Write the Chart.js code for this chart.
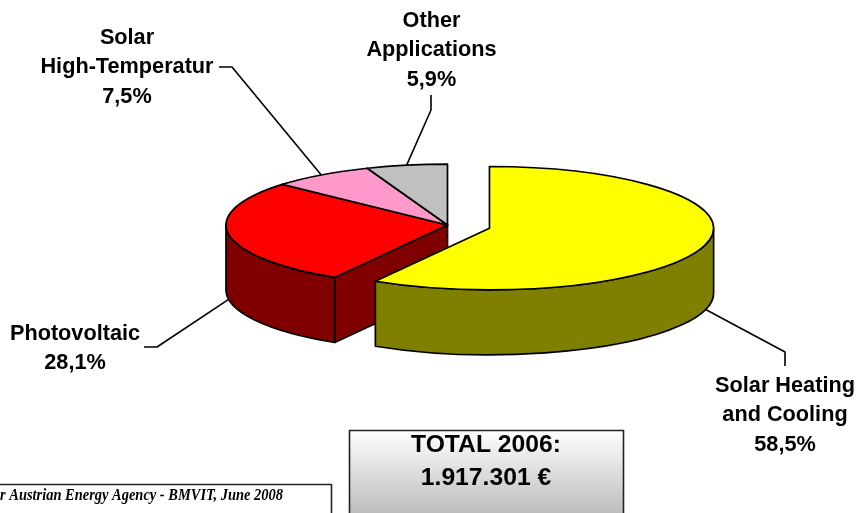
<!DOCTYPE html>
<html>
<head>
<meta charset="utf-8">
<title>Solar funding 2006</title>
<script src="https://cdn.jsdelivr.net/npm/chart.js@4"></script>
<style>
  body { margin: 0; background: #fff; overflow: hidden; }
  canvas { display: block; }
</style>
</head>
<body>
<canvas id="pieChart" width="858" height="513"></canvas>
<script>
//Chart values
const categories = ['Solar Heating and Cooling', 'Photovoltaic', 'Solar High-Temperatur', 'Other Applications'];
const shares = [58.5, 28.1, 7.5, 5.9];
const explode = [43.5, 0, 0, 0];
const topColors = ['#ffff00', '#ff0000', '#ff99cc', '#c0c0c0'];
const sideColors = ['#808000', '#800000', '#cc7aa3', '#999999'];

//Label text, one entry per slice
const labelLines = [
  ['Solar Heating', 'and Cooling'],
  ['Photovoltaic'],
  ['Solar', 'High-Temperatur'],
  ['Other', 'Applications'],
];
const labelCenterX = [785, 75, 127, 431.5];
const labelFirstLineY = [386, 334, 38, 21];
const leaderElbows = [
  [[785, 352], [785, 366]],
  [[157, 347], [144, 347]],
  [[232, 67], [219, 67]],
  [[431, 110], [431, 95]],
];

//3D look of the pie
const squash = 0.275;
const depth = 65;
const explodedGrow = 1.012;

function sliceGeometry(arc, i) {
  const mid = (arc.startAngle + arc.endAngle) / 2;
  const grow = explode[i] > 0 ? explodedGrow : 1;
  return {
    cx: arc.x + Math.cos(mid) * explode[i],
    cy: arc.y + Math.sin(mid) * explode[i] * squash,
    r: arc.outerRadius * grow,
    ry: arc.outerRadius * grow * squash,
    mid,
    grow,
  };
}

//Side walls, top faces and outlines of the slices
function drawPie(chart, ctx) {
  const arcs = chart.getDatasetMeta(0).data;
  const order = arcs.map((arc, i) => i).sort((a, b) => explode[a] - explode[b]);
  ctx.lineWidth = 1.7;
  ctx.strokeStyle = '#000';
  ctx.lineJoin = 'round';

  order.forEach((i) => {
    const arc = arcs[i];
    const g = sliceGeometry(arc, i);
    ctx.fillStyle = sideColors[i];

    //Cut face that shows where the neighbour was pulled away
    if (i > 0 && explode[i - 1] > 0) {
      const rimX = g.cx + Math.cos(arc.startAngle) * g.r;
      const rimY = g.cy + Math.sin(arc.startAngle) * g.ry;
      ctx.beginPath();
      ctx.moveTo(g.cx, g.cy);
      ctx.lineTo(rimX, rimY);
      ctx.lineTo(rimX, rimY + depth);
      ctx.lineTo(g.cx, g.cy + depth);
      ctx.closePath();
      ctx.fill();
      ctx.stroke();
    }

    //Outer wall, only the front half of the ellipse can be seen
    const from = Math.max(arc.startAngle, 0);
    const to = Math.min(arc.endAngle, Math.PI);
    if (from < to) {
      ctx.beginPath();
      ctx.ellipse(g.cx, g.cy, g.r, g.ry, 0, from, to);
      ctx.ellipse(g.cx, g.cy + depth, g.r, g.ry, 0, to, from, true);
      ctx.closePath();
      ctx.fill();
      ctx.stroke();
    }
  });

  order.forEach((i) => {
    const arc = arcs[i];
    const g = sliceGeometry(arc, i);

    ctx.save();
    ctx.translate(g.cx, g.cy);
    ctx.scale(g.grow, squash * g.grow);
    ctx.translate(-arc.x, -arc.y);
    arc.draw(ctx);
    ctx.restore();

    ctx.beginPath();
    ctx.moveTo(g.cx, g.cy);
    ctx.ellipse(g.cx, g.cy, g.r, g.ry, 0, arc.startAngle, arc.endAngle);
    ctx.closePath();
    ctx.stroke();
  });
}

//Leader lines start on the rim, at the middle of each slice
function drawLabels(chart, ctx) {
  const arcs = chart.getDatasetMeta(0).data;
  arcs.forEach((arc, i) => {
    const g = sliceGeometry(arc, i);
    const sin = Math.sin(g.mid);
    const startX = g.cx + Math.cos(g.mid) * g.r;
    const startY = g.cy + sin * g.ry + (sin > 0 ? depth : 0);

    ctx.beginPath();
    ctx.moveTo(startX, startY);
    leaderElbows[i].forEach((p) => ctx.lineTo(p[0], p[1]));
    ctx.lineWidth = 1.6;
    ctx.strokeStyle = '#000';
    ctx.stroke();

    const lines = labelLines[i].concat(shares[i].toFixed(1).replace('.', ',') + '%');
    ctx.font = 'bold 21.7px "Liberation Sans"';
    ctx.fillStyle = '#000';
    ctx.textAlign = 'center';
    ctx.textBaseline = 'middle';
    lines.forEach((line, n) => ctx.fillText(line, labelCenterX[i], labelFirstLineY[i] + n * 29.3));
  });
}

//The two boxes along the bottom edge
function drawBoxes(ctx) {
  const gradient = ctx.createLinearGradient(0, 430, 0, 513);
  gradient.addColorStop(0, '#ffffff');
  gradient.addColorStop(1, '#bdbdbd');
  ctx.fillStyle = gradient;
  ctx.fillRect(349.5, 430.5, 274, 90);
  ctx.strokeStyle = '#222';
  ctx.lineWidth = 1.6;
  ctx.strokeRect(349.5, 430.5, 274, 90);

  ctx.fillStyle = '#000';
  ctx.font = 'bold 24.7px "Liberation Sans"';
  ctx.textAlign = 'center';
  ctx.textBaseline = 'middle';
  ctx.fillText('TOTAL 2006:', 486, 445);
  ctx.fillText('1.917.301 €', 486, 478);

  ctx.strokeRect(-5.5, 484.5, 337, 40);
  ctx.font = 'italic bold 16px "Liberation Serif"';
  ctx.textAlign = 'right';
  ctx.fillText('r Austrian Energy Agency - BMVIT, June 2008', 283, 496, 283);
}

const pie3dPlugin = {
  id: 'pie3d',
  beforeDatasetsDraw(chart) {
    const ctx = chart.ctx;
    ctx.save();
    drawPie(chart, ctx);
    drawLabels(chart, ctx);
    drawBoxes(ctx);
    ctx.restore();
    return false;
  },
};

//Create the pie, the plugin above paints it
const chart = new Chart(document.getElementById('pieChart').getContext('2d'), {
  type: 'pie',
  data: {
    labels: categories,
    datasets: [{
      data: shares,
      backgroundColor: topColors,
      borderWidth: 0,
    }],
  },
  options: {
    responsive: false,
    animation: false,
    radius: 221.5,
    layout: { padding: { left: 37, bottom: 63 } },
    plugins: {
      legend: { display: false },
      tooltip: { enabled: false },
    },
  },
  plugins: [pie3dPlugin],
});
</script>
</body>
</html>
